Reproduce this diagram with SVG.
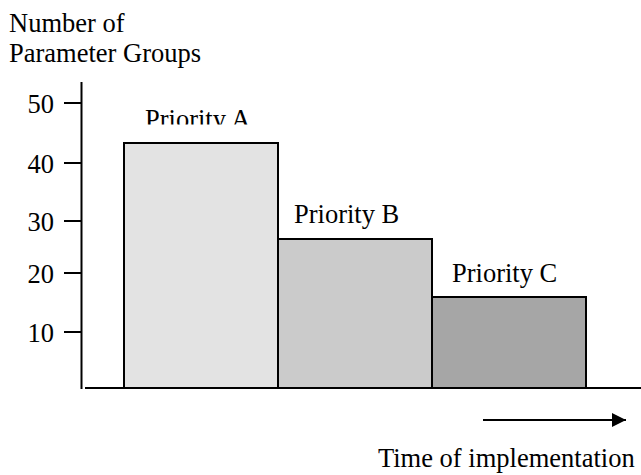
<svg xmlns="http://www.w3.org/2000/svg" width="641" height="475" viewBox="0 0 641 475">
<style>
text{font-family:"Liberation Serif","Times New Roman",serif;font-size:26.5px;fill:#000}
.ax{stroke:#000;stroke-width:2;fill:none}
.bar{stroke:#000;stroke-width:2}
.num{text-anchor:end}
</style>
<defs>
<marker id="ah" viewBox="0 0 10 10" refX="10" refY="5" markerWidth="14" markerHeight="14" markerUnits="userSpaceOnUse" orient="auto">
<path d="M0,0 L10,5 L0,10 z" fill="#000"/>
</marker>
<clipPath id="clipA"><rect x="0" y="0" width="641" height="124.5"/></clipPath>
</defs>
<rect width="641" height="475" fill="#fff"/>
<g id="ylabel">
<text x="9" y="32">Number of</text>
<text x="9" y="62">Parameter Groups</text>
</g>
<g id="bars">
<g id="barA"><rect class="bar" x="124" y="143" width="154" height="245" fill="#e3e3e3"/>
<text x="145" y="128" clip-path="url(#clipA)">Priority A</text></g>
<g id="barB"><rect class="bar" x="278" y="239" width="154" height="149" fill="#cbcbcb"/>
<text x="294" y="223">Priority B</text></g>
<g id="barC"><rect class="bar" x="432" y="297" width="154" height="91" fill="#a6a6a6"/>
<text x="452" y="282">Priority C</text></g>
</g>
<g id="axes">
<line class="ax" x1="81.5" y1="82" x2="81.5" y2="389"/>
<line class="ax" x1="85" y1="388" x2="641" y2="388"/>
<line class="ax" x1="64" y1="103" x2="81" y2="103"/>
<line class="ax" x1="64" y1="163" x2="81" y2="163"/>
<line class="ax" x1="64" y1="221" x2="81" y2="221"/>
<line class="ax" x1="64" y1="273" x2="81" y2="273"/>
<line class="ax" x1="64" y1="332" x2="81" y2="332"/>
<text class="num" x="54" y="113">50</text>
<text class="num" x="54" y="173">40</text>
<text class="num" x="54" y="231">30</text>
<text class="num" x="54" y="283">20</text>
<text class="num" x="54" y="342">10</text>
</g>
<g id="connectors">
<line class="ax" x1="483" y1="420" x2="626" y2="420" marker-end="url(#ah)"/>
</g>
<g id="xlabel">
<text x="378" y="467">Time of implementation</text>
</g>
</svg>
